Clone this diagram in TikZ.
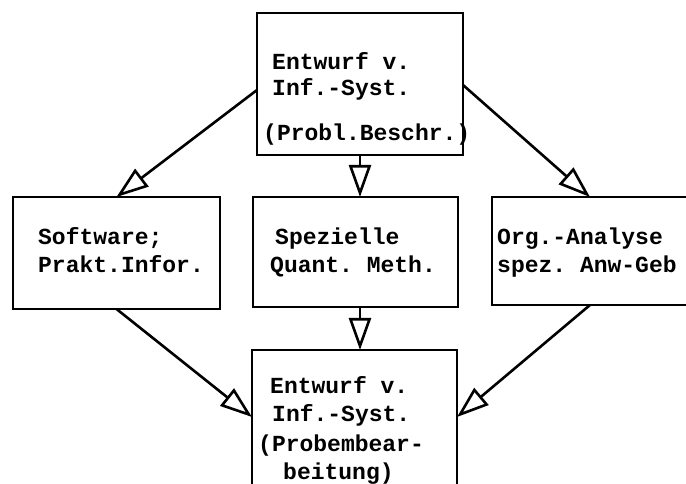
\documentclass[tikz,border=0pt]{standalone}
\usepackage{fontspec}
\setmonofont{Liberation Mono}
\usetikzlibrary{arrows.meta,calc}
\begin{document}
\begin{tikzpicture}[x=1bp,y=-1bp,
  box/.style={draw,line width=2.8bp,inner sep=0,outer sep=0,minimum width=#1},
  txt/.style={anchor=base west,inner sep=0,font=\ttfamily\bfseries\fontsize{23bp}{28bp}\selectfont},
  arr/.style={line width=2.6bp,-{Triangle[open,length=32bp,width=22bp,line width=2.6bp]}}]
\useasboundingbox (0,0) rectangle (686,484);
\clip (0,0) rectangle (686,484);
\fill[white] (0,0) rectangle (686,484);
% boxes
\node[box=206bp,minimum height=142bp] (top) at (360,84) {};
\node[box=207bp,minimum height=112bp] (left) at (116.5,253) {};
\node[box=205bp,minimum height=110bp] (mid) at (355.5,252) {};
\node[box=256bp,minimum height=108bp] (right) at (620,251) {};
\node[box=205bp,minimum height=160bp] (bot) at (354.5,430) {};
% texts
\node[txt] (t1) at (272,70) {Entwurf v.};
\node[txt] (t2) at (272,96) {Inf.-Syst.};
\node[txt] (t3) at (263,141) {(Probl.Beschr.)};
\node[txt] (l1) at (38,245) {Software;};
\node[txt] (l2) at (38,273) {Prakt.Infor.};
\node[txt] (m1) at (275,245) {Spezielle};
\node[txt] (m2) at (270,273) {Quant. Meth.};
\node[txt] (r1) at (497,245) {Org.-Analyse};
\node[txt] (r2) at (497,273) {spez. Anw-Geb};
\node[txt] (b1) at (270,393) {Entwurf v.};
\node[txt] (b2) at (272,421) {Inf.-Syst.};
\node[txt] (b3) at (258,451) {(Probembear-};
\node[txt] (b4) at (283,479) {beitung)};
% connectors
\coordinate (tl) at ($(top.north west)+(0,77)$);
\coordinate (tr) at ($(top.north east)+(0,72)$);
\coordinate (rt) at ($(right.north west)+(98,0)$);
\coordinate (rb) at ($(right.south west)+(98,0)$);
\coordinate (bl) at ($(bot.north west)+(0,67)$);
\coordinate (br) at ($(bot.north east)+(0,67)$);
\draw[arr] (tl) -- (left.north);
\draw[arr] (tr) -- (rt);
\draw[arr] (top.south) -- (top.south |- mid.north);
\draw[arr] (mid.south -| top.south) -- (top.south |- bot.north);
\draw[arr] (left.south) -- (bl);
\draw[arr] (rb) -- (br);
\end{tikzpicture}
\end{document}
